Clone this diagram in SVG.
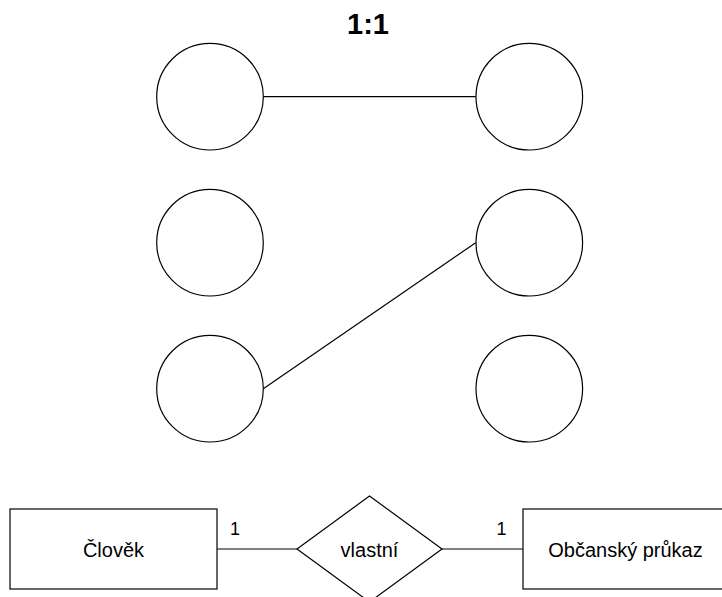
<svg xmlns="http://www.w3.org/2000/svg" width="722" height="597" viewBox="0 0 722 597">
<style>
.s{fill:#fff;stroke:#000;stroke-width:1.2}
.c{fill:none;stroke:#000;stroke-width:1.2}
.t{font-family:"Liberation Sans",Arial,sans-serif;font-size:20px;fill:#000;text-anchor:middle}
.n{font-family:"Liberation Sans",Arial,sans-serif;font-size:18px;fill:#000;text-anchor:middle}
.h{font-family:"Liberation Sans",Arial,sans-serif;font-size:29px;font-weight:bold;fill:#000;text-anchor:middle}
</style>
<rect width="722" height="597" fill="#fff"/>
<text class="h" x="368" y="34">1:1</text>
<g id="connectors">
<line class="c" x1="263.3" y1="96.7" x2="475.7" y2="96.7"/>
<line class="c" x1="263.3" y1="388.7" x2="475.7" y2="242.7"/>
<line class="c" x1="217" y1="549" x2="297" y2="549"/>
<line class="c" x1="442" y1="549" x2="523" y2="549"/>
<text class="n" x="235" y="535">1</text>
<text class="n" x="501.5" y="535">1</text>
</g>
<g id="c1"><circle class="s" cx="210" cy="96.7" r="53.3"/></g>
<g id="c2"><circle class="s" cx="529.3" cy="96.7" r="53.3"/></g>
<g id="c3"><circle class="s" cx="210" cy="242.7" r="53.3"/></g>
<g id="c4"><circle class="s" cx="529.3" cy="242.7" r="53.3"/></g>
<g id="c5"><circle class="s" cx="210" cy="388.7" r="53.3"/></g>
<g id="c6"><circle class="s" cx="529.3" cy="388.7" r="53.3"/></g>
<g id="clovek"><rect class="s" x="10" y="509" width="207" height="80"/><text class="t" x="113.5" y="557">Člověk</text></g>
<g id="vlastni"><polygon class="s" points="369.5,496 442,549 369.5,602 297,549"/><text class="t" x="369.5" y="557">vlastní</text></g>
<g id="prukaz"><rect class="s" x="523" y="509" width="207" height="80"/><text class="t" x="625.5" y="557">Občanský průkaz</text></g>
</svg>
